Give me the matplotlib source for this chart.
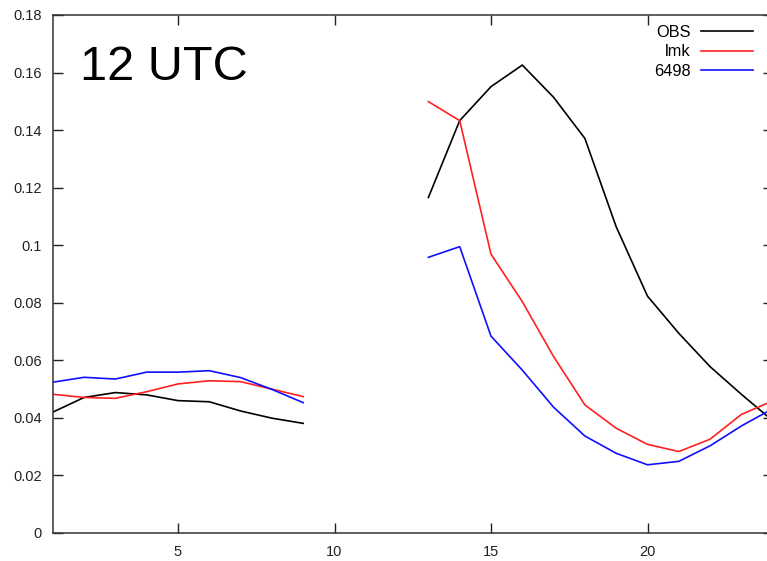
import numpy as np
import matplotlib
matplotlib.use("Agg")
import matplotlib.pyplot as plt
from matplotlib.ticker import FuncFormatter

plt.rcParams['font.family'] = ['Liberation Sans', 'DejaVu Sans']

hours = np.arange(1, 25)
nan = np.nan

obs = [0.0420, 0.0471, 0.0488, 0.0480, 0.0460, 0.0456, 0.0424, 0.0399, 0.0381,
       nan, nan, nan,
       0.1166, 0.1433, 0.1551, 0.1626, 0.1514, 0.1371, 0.1064, 0.0823,
       0.0694, 0.0578, 0.0482, 0.0390]
lmk = [0.0482, 0.0471, 0.0468, 0.0491, 0.0518, 0.0529, 0.0526, 0.0500, 0.0474,
       nan, nan, nan,
       0.1499, 0.1433, 0.0969, 0.0804, 0.0613, 0.0445, 0.0364, 0.0308,
       0.0283, 0.0326, 0.0412, 0.0459]
exp6498 = [0.0524, 0.0541, 0.0535, 0.0559, 0.0559, 0.0564, 0.0540, 0.0499, 0.0453,
           nan, nan, nan,
           0.0958, 0.0995, 0.0684, 0.0566, 0.0437, 0.0337, 0.0277, 0.0237,
           0.0249, 0.0303, 0.0372, 0.0432]

series_names = ["OBS", "lmk", "6498"]
series_colors = ["black", "#ff2020", "#1010ff"]
x_ticks = [5, 10, 15, 20]
y_ticks = np.arange(0, 0.181, 0.02)

W, H = 767, 561
fig = plt.figure(figsize=(W / 100, H / 100), dpi=100)
left, right, bottom, top = 52.8, 772.7, 533, 15
ax = fig.add_axes([left / W, 1 - bottom / H, (right - left) / W, (bottom - top) / H])

for vals, name, col in zip([obs, lmk, exp6498], series_names, series_colors):
    ax.plot(hours, vals, color=col, lw=1.2, label=name)

ax.set_xlim(1, 24)
ax.set_ylim(0, 0.18)
ax.set_xticks(x_ticks)
ax.set_yticks(y_ticks)
ax.yaxis.set_major_formatter(FuncFormatter(
    lambda v, p: f"{v:.2f}".rstrip('0').rstrip('.') if abs(v) > 1e-9 else "0"))
ax.tick_params(direction='in', length=7, width=1, top=True, right=True,
               labelsize=10.5, colors='#222222')
ax.tick_params(axis='x', pad=9)
ax.tick_params(axis='y', pad=8)
for s in ax.spines.values():
    s.set_color('#333333')
    s.set_linewidth(1.1)

fig.text(80 / W, 1 - 80 / H, "12 UTC", fontsize=35, ha='left', va='baseline')

leg = ax.legend(loc='upper right', bbox_to_anchor=(753 / W, 1 - 25 / H),
                bbox_transform=fig.transFigure, frameon=False, markerfirst=False,
                fontsize=11.8, handlelength=3.2, handletextpad=0.6,
                labelspacing=0.27, borderpad=0, borderaxespad=0)

fig.savefig("out.png", dpi=100)
